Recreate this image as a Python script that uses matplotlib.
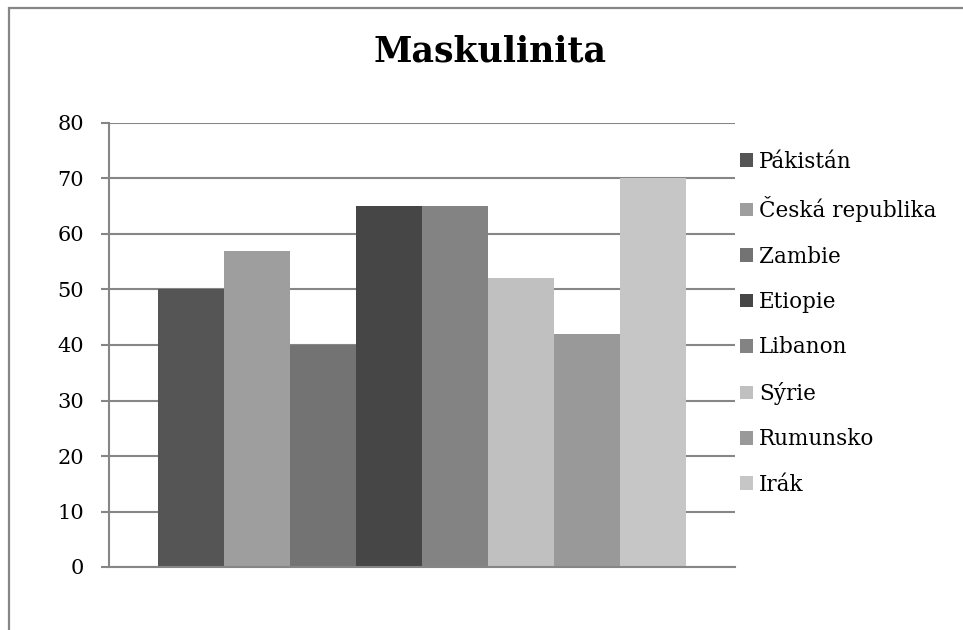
import matplotlib.pyplot as plt
from matplotlib.patches import Rectangle

countries = ['Pákistán', 'Česká republika', 'Zambie', 'Etiopie',
             'Libanon', 'Sýrie', 'Rumunsko', 'Irák']
values = [50, 57, 40, 65, 65, 52, 42, 70]
colors = ['#555555', '#9e9e9e', '#737373', '#464646',
          '#838383', '#c0c0c0', '#999999', '#c6c6c6']
yticks = [0, 10, 20, 30, 40, 50, 60, 70, 80]

plt.rcParams['font.family'] = ['DejaVu Serif']

W, H = 963, 630
fig = plt.figure(figsize=(W / 100, H / 100), dpi=100)

# chart border, open to the right and bottom like a cropped chart object
fig.patches.append(Rectangle((8.5 / W, -0.1), 1.2, (H - 8.5) / H + 0.1,
                             transform=fig.transFigure, fill=False,
                             edgecolor='#868686', linewidth=1.6))

ax = fig.add_axes([109 / W, (H - 567) / H, (735 - 109) / W, (567 - 123) / H])

# one category with eight series, 150% gap width
n = len(values)
w = 1 / (n + 1.5)
for i, (name, v, c) in enumerate(zip(countries, values, colors)):
    x = -0.5 + 0.75 * w + i * w + w / 2
    ax.bar(x, v, width=w, color=c, label=name, zorder=3)

ax.set_xlim(-0.5, 0.5)
ax.set_ylim(0, 80)
ax.set_yticks(yticks)
ax.set_xticks([])
ax.grid(axis='y', color='#868686', linewidth=1.5, zorder=0)
for s in ['top', 'right']:
    ax.spines[s].set_visible(False)
for s in ['left', 'bottom']:
    ax.spines[s].set_color('#868686')
    ax.spines[s].set_linewidth(1.5)
    ax.spines[s].set_zorder(4)
ax.tick_params(axis='y', direction='out', length=6, width=1.5,
               color='#868686', pad=12, labelsize=15)

fig.text(490 / W, 1 - 52 / H, 'Maskulinita', ha='center', va='center',
         fontsize=25, fontweight='bold')

fig.legend(loc='upper left', bbox_to_anchor=(731 / W, 1 - 142 / H),
           frameon=False, fontsize=15.5, handlelength=0.6, handleheight=0.6,
           handletextpad=0.3, labelspacing=1.09, borderaxespad=0)

fig.savefig('out.png', dpi=100)
